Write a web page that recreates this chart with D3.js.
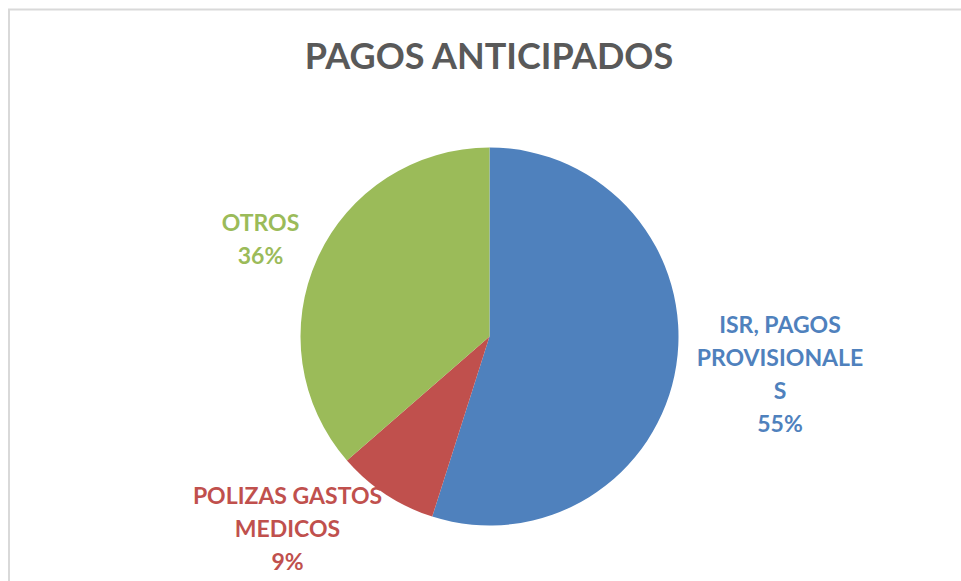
<!DOCTYPE html>
<html>
<head>
<meta charset="utf-8">
<script src="https://cdn.jsdelivr.net/npm/d3@7"></script>
<style>
  html, body { margin: 0; padding: 0; background: #fff; }
  svg { display: block; font-family: Lato, "Open Sans", sans-serif; }
</style>
</head>
<body>
<svg width="961" height="581"></svg>
<script>
// chart data
const categories = ["ISR, PAGOS PROVISIONALES", "POLIZAS GASTOS MEDICOS", "OTROS"];
const values = [54.9, 8.7, 36.4];
const labelLines = [
  ["ISR, PAGOS", "PROVISIONALE", "S", "55%"],
  ["POLIZAS GASTOS", "MEDICOS", "9%"],
  ["OTROS", "36%"],
];
const colors = ["#4f81bd", "#c0504d", "#9bbb59"];
const title = "PAGOS ANTICIPADOS";

const canvas = { width: 961, height: 581 };
const pieCenter = { x: 489.5, y: 336.5 };
const radius = 189;

// label anchor spots (center x, first baseline y)
const labelSpots = [
  { x: 780, y: 333 },
  { x: 287.5, y: 504 },
  { x: 260.5, y: 231 },
];
const lineGap = 33;

const svg = d3.select("svg");

// chart area border (only top/left visible in the crop)
svg.append("rect")
  .attr("x", 9)
  .attr("y", 9.5)
  .attr("width", canvas.width)
  .attr("height", canvas.height)
  .attr("fill", "none")
  .attr("stroke", "#d9d9d9")
  .attr("stroke-width", 2);

svg.append("text")
  .attr("x", 489)
  .attr("y", 69)
  .attr("text-anchor", "middle")
  .attr("font-size", 36)
  .attr("font-weight", "bold")
  .attr("fill", "#595959")
  .text(title);

const pie = d3.pie().sort(null).value((d) => d);
const arc = d3.arc().innerRadius(0).outerRadius(radius);

const slices = pie(values);

svg.append("g")
  .attr("transform", "translate(" + pieCenter.x + "," + pieCenter.y + ")")
  .selectAll("path")
  .data(slices)
  .enter()
  .append("path")
  .attr("d", arc)
  .attr("fill", (d, i) => colors[i]);

// data labels
const labels = svg.append("g");
slices.forEach((s, i) => {
  const t = labels.append("text")
    .attr("text-anchor", "middle")
    .attr("font-size", 23)
    .attr("font-weight", "bold")
    .attr("fill", colors[i]);
  labelLines[i].forEach((line, j) => {
    t.append("tspan")
      .attr("x", labelSpots[i].x)
      .attr("y", labelSpots[i].y + j * lineGap)
      .text(line);
  });
});
</script>
</body>
</html>
